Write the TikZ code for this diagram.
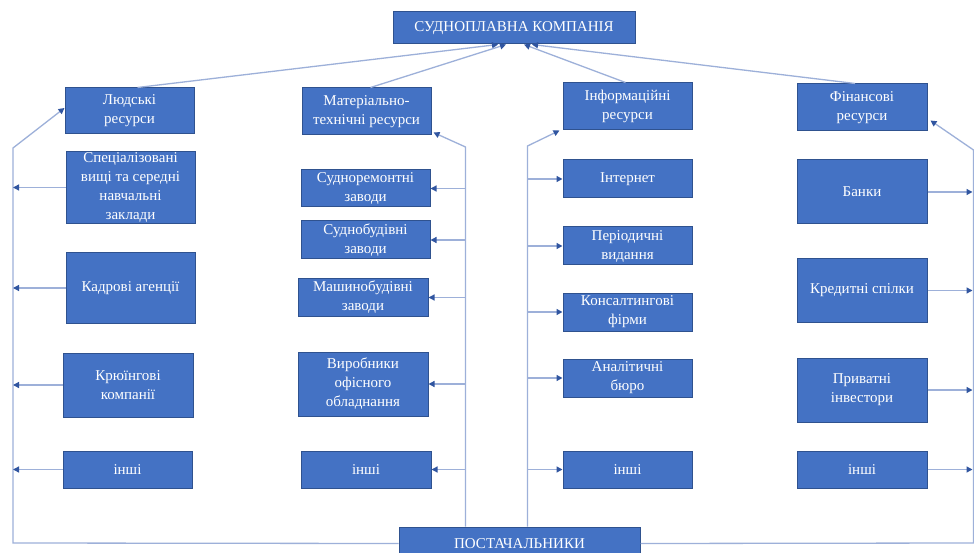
\documentclass[tikz,border=0pt]{standalone}
\usepackage{fontspec}
\setmainfont{Liberation Serif}
\usepackage{tikz}
\usetikzlibrary{arrows.meta,calc}
\definecolor{boxblue}{HTML}{4472C4}
\definecolor{boxline}{HTML}{2F528F}
\definecolor{lineblue}{HTML}{9DB0D9}
\definecolor{tipblue}{HTML}{3055A0}
\tikzset{
  box/.style={draw=boxline, line width=1pt, fill=boxblue, text=white, align=center,
    inner sep=1pt, font=\fontsize{15}{19}\selectfont},
  conn/.style={draw=lineblue, line width=1.3pt},
  arr/.style={conn, -{Triangle[length=6pt,width=6pt,color=tipblue]}},
}

\begin{document}
\begin{tikzpicture}[x=1pt,y=-1pt]
\useasboundingbox (0,0) rectangle (974,553);
\clip (0,0) rectangle (974,553);
\fill[white] (0,0) rectangle (974,553);

% top and bottom
\node[box, minimum width=242pt, minimum height=32pt] (comp) at (514,28) {СУДНОПЛАВНА КОМПАНІЯ};
\node[box, minimum width=241pt, minimum height=33pt] (post) at (519.5,543.5) {ПОСТАЧАЛЬНИКИ};

% resources
\node[box, minimum width=129pt, minimum height=46pt] (ljud) at (129.5,111) {Людські\\ресурси};
\node[box, minimum width=129pt, minimum height=47pt] (mat) at (366.5,111.5) {Матеріально-\\технічні ресурси};
\node[box, minimum width=129pt, minimum height=47pt] (inf) at (627.5,106.5) {Інформаційні\\ресурси};
\node[box, minimum width=130pt, minimum height=47pt] (fin) at (862,107.5) {Фінансові\\ресурси};

% column 1
\node[box, minimum width=129pt, minimum height=71pt] (spec) at (130.5,187.5) {Спеціалізовані\\вищі та середні\\навчальні\\заклади};
\node[box, minimum width=129pt, minimum height=70pt] (kadr) at (130.5,288) {Кадрові агенції};
\node[box, minimum width=130pt, minimum height=64pt] (kru) at (128,385) {Крюїнгові\\компанії};
\node[box, minimum width=129pt, minimum height=37pt] (insha) at (127.5,469.5) {інші};

% column 2
\node[box, minimum width=129pt, minimum height=37pt] (srem) at (365.5,188.5) {Судноремонтні\\заводи};
\node[box, minimum width=129pt, minimum height=38pt] (sbud) at (365.5,240) {Суднобудівні\\заводи};
\node[box, minimum width=130pt, minimum height=37pt] (mash) at (363,297.5) {Машинобудівні\\заводи};
\node[box, minimum width=130pt, minimum height=64pt] (vyr) at (363,384) {Виробники\\офісного\\обладнання};
\node[box, minimum width=130pt, minimum height=37pt] (inshb) at (366,469.5) {інші};

% column 3
\node[box, minimum width=129pt, minimum height=38pt] (inet) at (627.5,179) {Інтернет};
\node[box, minimum width=129pt, minimum height=38pt] (per) at (627.5,246) {Періодичні\\видання};
\node[box, minimum width=129pt, minimum height=38pt] (kons) at (627.5,312) {Консалтингові\\фірми};
\node[box, minimum width=129pt, minimum height=38pt] (anal) at (627.5,378) {Аналітичні\\бюро};
\node[box, minimum width=129pt, minimum height=37pt] (inshc) at (627.5,469.5) {інші};

% column 4
\node[box, minimum width=130pt, minimum height=64pt] (bank) at (862,192) {Банки};
\node[box, minimum width=130pt, minimum height=63pt] (kred) at (862,290.5) {Кредитні спілки};
\node[box, minimum width=130pt, minimum height=64pt] (priv) at (862,390) {Приватні\\інвестори};
\node[box, minimum width=130pt, minimum height=37pt] (inshd) at (862,469.5) {інші};

% frame corners
\coordinate (lt) at (13,148);
\coordinate (lb) at (13,543);
\coordinate (mt) at (465.5,147);
\coordinate (it) at (527.5,146);
\coordinate (rt) at (973.5,150);
\coordinate (rb) at (973.5,543);

% to the company
\draw[arr] ([xshift=8pt]ljud.north) -- ([xshift=-16pt]comp.south);
\draw[arr] ([xshift=4pt]mat.north) -- ([xshift=-8pt]comp.south);
\draw[arr] ([xshift=-2pt]inf.north) -- ([xshift=10pt]comp.south);
\draw[arr] ([xshift=-7pt]fin.north) -- ([xshift=18pt]comp.south);

% suppliers
\draw[arr] (post.west) -- (lb) -- (lt) -- ([yshift=3pt]ljud.west);
\draw[arr] (post.north -| mt) -- (mt) -- ([xshift=2pt,yshift=3pt]mat.south east);
\draw[arr] (post.north -| it) -- (it) -- ([xshift=-3pt]inf.south west);
\draw[arr] (post.east) -- (rb) -- (rt) -- ([xshift=3pt,yshift=11pt]fin.south east);

\foreach \n in {spec,kadr,kru,insha}
  \draw[arr] (\n.west) -- (\n.west -| lt);
\foreach \n in {srem,sbud,mash,vyr,inshb}
  \draw[arr] (\n.east -| mt) -- (\n.east);
\foreach \n in {inet,per,kons,anal,inshc}
  \draw[arr] (\n.west -| it) -- (\n.west);
\foreach \n in {bank,kred,priv,inshd}
  \draw[arr] (\n.east) -- ([xshift=-1pt]\n.east -| rt);
\end{tikzpicture}
\end{document}
